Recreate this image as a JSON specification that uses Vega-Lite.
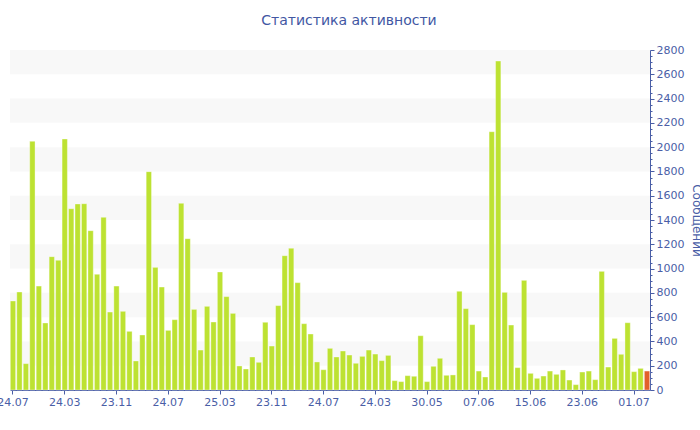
{
  "$schema": "https://vega.github.io/schema/vega-lite/v6.json",
  "autosize": {"type": "none"},
  "padding": {"left": 10, "top": 50, "right": 50, "bottom": 40},
  "width": 640,
  "height": 340,
  "background": "#ffffff",
  "title": {
    "text": "Статистика активности",
    "font": "DejaVu Sans",
    "fontSize": 14,
    "fontWeight": "normal",
    "color": "#4257a3",
    "anchor": "middle",
    "frame": "group",
    "dx": 19,
    "offset": 16
  },
  "config": {
    "view": {"stroke": null},
    "axis": {"labelFont": "DejaVu Sans", "titleFont": "DejaVu Sans", "labelOverlap": false}
  },
  "datasets": {
    "bands": [
      {"lo": 200, "hi": 400},
      {"lo": 600, "hi": 800},
      {"lo": 1000, "hi": 1200},
      {"lo": 1400, "hi": 1600},
      {"lo": 1800, "hi": 2000},
      {"lo": 2200, "hi": 2400},
      {"lo": 2600, "hi": 2800}
    ],
    "activity": [
      {"i": 0, "v": 733, "kind": "past"},
      {"i": 1, "v": 807, "kind": "past"},
      {"i": 2, "v": 217, "kind": "past"},
      {"i": 3, "v": 2048, "kind": "past"},
      {"i": 4, "v": 856, "kind": "past"},
      {"i": 5, "v": 552, "kind": "past"},
      {"i": 6, "v": 1098, "kind": "past"},
      {"i": 7, "v": 1068, "kind": "past"},
      {"i": 8, "v": 2067, "kind": "past"},
      {"i": 9, "v": 1493, "kind": "past"},
      {"i": 10, "v": 1532, "kind": "past"},
      {"i": 11, "v": 1534, "kind": "past"},
      {"i": 12, "v": 1312, "kind": "past"},
      {"i": 13, "v": 953, "kind": "past"},
      {"i": 14, "v": 1422, "kind": "past"},
      {"i": 15, "v": 642, "kind": "past"},
      {"i": 16, "v": 856, "kind": "past"},
      {"i": 17, "v": 648, "kind": "past"},
      {"i": 18, "v": 483, "kind": "past"},
      {"i": 19, "v": 239, "kind": "past"},
      {"i": 20, "v": 453, "kind": "past"},
      {"i": 21, "v": 1798, "kind": "past"},
      {"i": 22, "v": 1010, "kind": "past"},
      {"i": 23, "v": 848, "kind": "past"},
      {"i": 24, "v": 491, "kind": "past"},
      {"i": 25, "v": 579, "kind": "past"},
      {"i": 26, "v": 1537, "kind": "past"},
      {"i": 27, "v": 1246, "kind": "past"},
      {"i": 28, "v": 664, "kind": "past"},
      {"i": 29, "v": 329, "kind": "past"},
      {"i": 30, "v": 689, "kind": "past"},
      {"i": 31, "v": 560, "kind": "past"},
      {"i": 32, "v": 972, "kind": "past"},
      {"i": 33, "v": 769, "kind": "past"},
      {"i": 34, "v": 631, "kind": "past"},
      {"i": 35, "v": 198, "kind": "past"},
      {"i": 36, "v": 173, "kind": "past"},
      {"i": 37, "v": 272, "kind": "past"},
      {"i": 38, "v": 228, "kind": "past"},
      {"i": 39, "v": 557, "kind": "past"},
      {"i": 40, "v": 362, "kind": "past"},
      {"i": 41, "v": 695, "kind": "past"},
      {"i": 42, "v": 1106, "kind": "past"},
      {"i": 43, "v": 1167, "kind": "past"},
      {"i": 44, "v": 884, "kind": "past"},
      {"i": 45, "v": 546, "kind": "past"},
      {"i": 46, "v": 461, "kind": "past"},
      {"i": 47, "v": 231, "kind": "past"},
      {"i": 48, "v": 167, "kind": "past"},
      {"i": 49, "v": 343, "kind": "past"},
      {"i": 50, "v": 272, "kind": "past"},
      {"i": 51, "v": 321, "kind": "past"},
      {"i": 52, "v": 288, "kind": "past"},
      {"i": 53, "v": 220, "kind": "past"},
      {"i": 54, "v": 277, "kind": "past"},
      {"i": 55, "v": 329, "kind": "past"},
      {"i": 56, "v": 296, "kind": "past"},
      {"i": 57, "v": 242, "kind": "past"},
      {"i": 58, "v": 285, "kind": "past"},
      {"i": 59, "v": 77, "kind": "past"},
      {"i": 60, "v": 69, "kind": "past"},
      {"i": 61, "v": 118, "kind": "past"},
      {"i": 62, "v": 113, "kind": "past"},
      {"i": 63, "v": 447, "kind": "past"},
      {"i": 64, "v": 69, "kind": "past"},
      {"i": 65, "v": 195, "kind": "past"},
      {"i": 66, "v": 261, "kind": "past"},
      {"i": 67, "v": 121, "kind": "past"},
      {"i": 68, "v": 124, "kind": "past"},
      {"i": 69, "v": 813, "kind": "past"},
      {"i": 70, "v": 670, "kind": "past"},
      {"i": 71, "v": 538, "kind": "past"},
      {"i": 72, "v": 156, "kind": "past"},
      {"i": 73, "v": 107, "kind": "past"},
      {"i": 74, "v": 2127, "kind": "past"},
      {"i": 75, "v": 2709, "kind": "past"},
      {"i": 76, "v": 804, "kind": "past"},
      {"i": 77, "v": 535, "kind": "past"},
      {"i": 78, "v": 184, "kind": "past"},
      {"i": 79, "v": 903, "kind": "past"},
      {"i": 80, "v": 137, "kind": "past"},
      {"i": 81, "v": 96, "kind": "past"},
      {"i": 82, "v": 115, "kind": "past"},
      {"i": 83, "v": 156, "kind": "past"},
      {"i": 84, "v": 129, "kind": "past"},
      {"i": 85, "v": 165, "kind": "past"},
      {"i": 86, "v": 82, "kind": "past"},
      {"i": 87, "v": 44, "kind": "past"},
      {"i": 88, "v": 148, "kind": "past"},
      {"i": 89, "v": 156, "kind": "past"},
      {"i": 90, "v": 85, "kind": "past"},
      {"i": 91, "v": 977, "kind": "past"},
      {"i": 92, "v": 189, "kind": "past"},
      {"i": 93, "v": 425, "kind": "past"},
      {"i": 94, "v": 294, "kind": "past"},
      {"i": 95, "v": 554, "kind": "past"},
      {"i": 96, "v": 151, "kind": "past"},
      {"i": 97, "v": 178, "kind": "past"},
      {"i": 98, "v": 156, "kind": "current"}
    ]
  },
  "layer": [
    {
      "data": {"name": "bands"},
      "mark": {"type": "rect", "color": "#f8f8f8"},
      "encoding": {
        "y": {
          "field": "lo",
          "type": "quantitative",
          "scale": {"domain": [0, 2800], "nice": false},
          "axis": {
            "orient": "right",
            "title": "Сообщений",
            "titleColor": "#4a5ea6",
            "titleFontSize": 12,
            "titleFontWeight": "normal",
            "titlePadding": 6,
            "values": [0, 50, 100, 150, 200, 250, 300, 350, 400, 450, 500, 550, 600, 650, 700, 750, 800, 850, 900, 950, 1000, 1050, 1100, 1150, 1200, 1250, 1300, 1350, 1400, 1450, 1500, 1550, 1600, 1650, 1700, 1750, 1800, 1850, 1900, 1950, 2000, 2050, 2100, 2150, 2200, 2250, 2300, 2350, 2400, 2450, 2500, 2550, 2600, 2650, 2700, 2750, 2800],
            "labelExpr": "datum.value % 200 === 0 ? datum.value : ''",
            "labelOverlap": false,
            "labelFontSize": 11,
            "labelColor": "#4a5ea6",
            "labelPadding": 2,
            "domainColor": "#4a5ea6",
            "tickColor": "#4a5ea6",
            "tickSize": {"condition": {"test": "datum.value % 200 === 0", "value": 4}, "value": 2},
            "grid": false
          }
        },
        "y2": {"field": "hi"}
      }
    },
    {
      "data": {"name": "activity"},
      "mark": {"type": "bar", "stroke": "#ffffff", "strokeOpacity": 0.35, "strokeWidth": 1},
      "encoding": {
        "x": {
          "field": "i",
          "type": "ordinal",
          "scale": {"paddingInner": 0.18, "paddingOuter": 0.05},
          "axis": {
            "title": null,
            "values": [0, 8, 16, 24, 32, 40, 48, 56, 64, 72, 80, 88, 96],
            "labelExpr": "['24.07','24.03','23.11','24.07','25.03','23.11','24.07','24.03','30.05','07.06','15.06','23.06','01.07'][datum.value / 8]",
            "labelAngle": 0,
            "labelFontSize": 11,
            "labelColor": "#4a5ea6",
            "domainColor": "#4a5ea6",
            "tickColor": "#4a5ea6",
            "tickSize": 4,
            "labelPadding": 2,
            "labelOverlap": false
          }
        },
        "y": {
          "field": "v",
          "type": "quantitative",
          "scale": {"domain": [0, 2800], "nice": false},
          "axis": {
            "orient": "right",
            "title": "Сообщений",
            "titleColor": "#4a5ea6",
            "titleFontSize": 12,
            "titleFontWeight": "normal",
            "titlePadding": 6,
            "values": [0, 50, 100, 150, 200, 250, 300, 350, 400, 450, 500, 550, 600, 650, 700, 750, 800, 850, 900, 950, 1000, 1050, 1100, 1150, 1200, 1250, 1300, 1350, 1400, 1450, 1500, 1550, 1600, 1650, 1700, 1750, 1800, 1850, 1900, 1950, 2000, 2050, 2100, 2150, 2200, 2250, 2300, 2350, 2400, 2450, 2500, 2550, 2600, 2650, 2700, 2750, 2800],
            "labelExpr": "datum.value % 200 === 0 ? datum.value : ''",
            "labelOverlap": false,
            "labelFontSize": 11,
            "labelColor": "#4a5ea6",
            "labelPadding": 2,
            "domainColor": "#4a5ea6",
            "tickColor": "#4a5ea6",
            "tickSize": {"condition": {"test": "datum.value % 200 === 0", "value": 4}, "value": 2},
            "grid": false
          }
        },
        "color": {
          "field": "kind",
          "type": "nominal",
          "scale": {"domain": ["past", "current"], "range": ["#bde232", "#e2612b"]},
          "legend": null
        }
      }
    }
  ]
}
